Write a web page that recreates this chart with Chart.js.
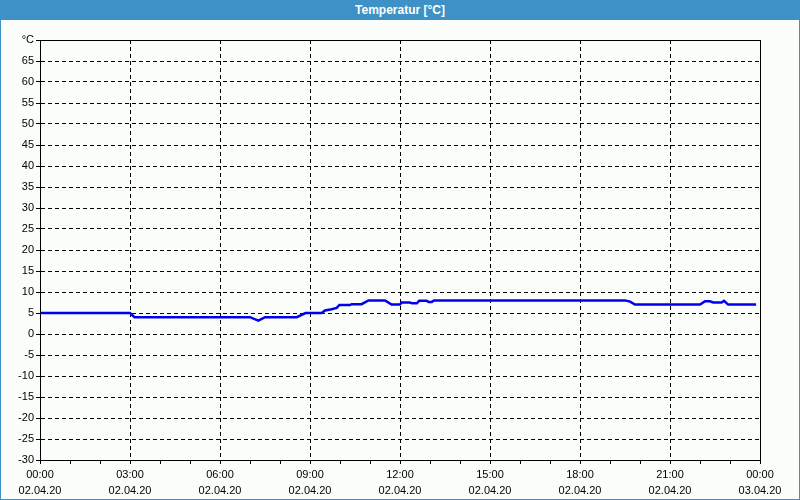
<!DOCTYPE html>
<html>
<head>
<meta charset="utf-8">
<script src="https://cdn.jsdelivr.net/npm/chart.js@4"></script>
<style>
  html, body { margin: 0; padding: 0; background: #fff; }
  #box {
    position: relative; width: 800px; height: 500px; box-sizing: border-box;
    border: 1px solid #3d91c4; border-top: none; background: #fbfdfb;
  }
  #titel {
    position: absolute; left: -1px; top: 0; width: 800px; height: 20px;
    background: #3d91c4; color: #fff; text-align: center;
    font: bold 12px "Liberation Sans", sans-serif; line-height: 20px;
  }
  #wrap { position: absolute; left: 0; top: 20px; width: 798px; height: 479px; }
</style>
</head>
<body>
<div id="box">
  <div id="titel">Temperatur [°C]</div>
  <div id="wrap"><canvas id="chartTemp" width="798" height="479"></canvas></div>
</div>
<script>
// Stunden ab 02.04.20 00:00
const stunden = [0, 3.0, 3.15, 7.0, 7.28, 7.5, 8.56, 8.85, 9.39, 9.5,
    9.72, 9.89, 9.98, 10.33, 10.39, 10.72, 10.95, 11.5, 11.72, 12.0,
    12.06, 12.33, 12.4, 12.56, 12.64, 12.89, 12.95, 13.06, 13.13, 19.5,
    19.67, 19.83, 22.0, 22.17, 22.33, 22.44, 22.72, 22.8, 22.94, 23.87];
const temperatur = [5, 5, 4, 4, 3.2, 4, 4, 5, 5, 5.6,
    5.9, 6.2, 6.9, 6.9, 7.1, 7.1, 8, 8, 7, 7,
    7.5, 7.5, 7.3, 7.3, 7.9, 7.9, 7.6, 7.6, 8, 8,
    7.7, 7, 7, 7.8, 7.8, 7.5, 7.5, 7.9, 7, 7];

const zeitLabels = ["00:00", "03:00", "06:00", "09:00", "12:00", "15:00", "18:00", "21:00", "00:00"];
const datumLabels = ["02.04.20", "02.04.20", "02.04.20", "02.04.20", "02.04.20", "02.04.20", "02.04.20", "02.04.20", "03.04.20"];

const yMin = -30, yMax = 70, yStep = 5;

const schrift = { family: "Liberation Sans", size: 11 };

// Rahmen um den Plotbereich
const rahmen = {
    id: "rahmen",
    afterDraw(chart) {
        const { ctx, chartArea: a } = chart;
        ctx.save();
        ctx.strokeStyle = "#000";
        ctx.lineWidth = 1;
        ctx.strokeRect(Math.round(a.left) + 0.5, Math.round(a.top) + 0.5,
            Math.round(a.right - a.left), Math.round(a.bottom - a.top));
        ctx.restore();
    }
};

new Chart(document.getElementById("chartTemp"), {
    type: "line",
    data: {
        datasets: [{
            data: stunden.map((h, i) => ({ x: h, y: temperatur[i] })),
            borderColor: "#0000ee",
            borderWidth: 2.5,
            pointRadius: 0,
            tension: 0,
            fill: false
        }]
    },
    options: {
        responsive: false,
        animation: false,
        layout: { padding: { top: 20, right: 39, bottom: 0, left: 0 } },
        plugins: { legend: { display: false }, title: { display: false }, tooltip: { enabled: false } },
        scales: {
            x: {
                type: "linear", min: 0, max: 24,
                afterFit: s => { s.height = 39; },
                afterBuildTicks: s => { s.ticks = Array.from({ length: 25 }, (_, i) => ({ value: i })); },
                ticks: {
                    autoSkip: false, maxRotation: 0, padding: 3, color: "#000",
                    font: { ...schrift, lineHeight: 1.45 },
                    callback: v => v % 3 === 0 ? [zeitLabels[v / 3], datumLabels[v / 3]] : ""
                },
                grid: {
                    color: c => (c.tick && c.tick.value % 3 === 0) ? "#000" : "rgba(0,0,0,0)",
                    tickColor: "#000", tickLength: 4, lineWidth: 1
                },
                border: { color: "#000", width: 1, dash: [4, 3] }
            },
            y: {
                min: yMin, max: yMax,
                afterFit: s => { s.width = 39; },
                ticks: {
                    stepSize: yStep, color: "#000", padding: 2, font: schrift,
                    callback: v => v === yMax ? "°C" : v
                },
                grid: { color: "#000", tickColor: "#000", tickLength: 4, lineWidth: 1 },
                border: { color: "#000", width: 1, dash: [4, 3] }
            }
        }
    },
    plugins: [rahmen]
});
</script>
</body>
</html>
